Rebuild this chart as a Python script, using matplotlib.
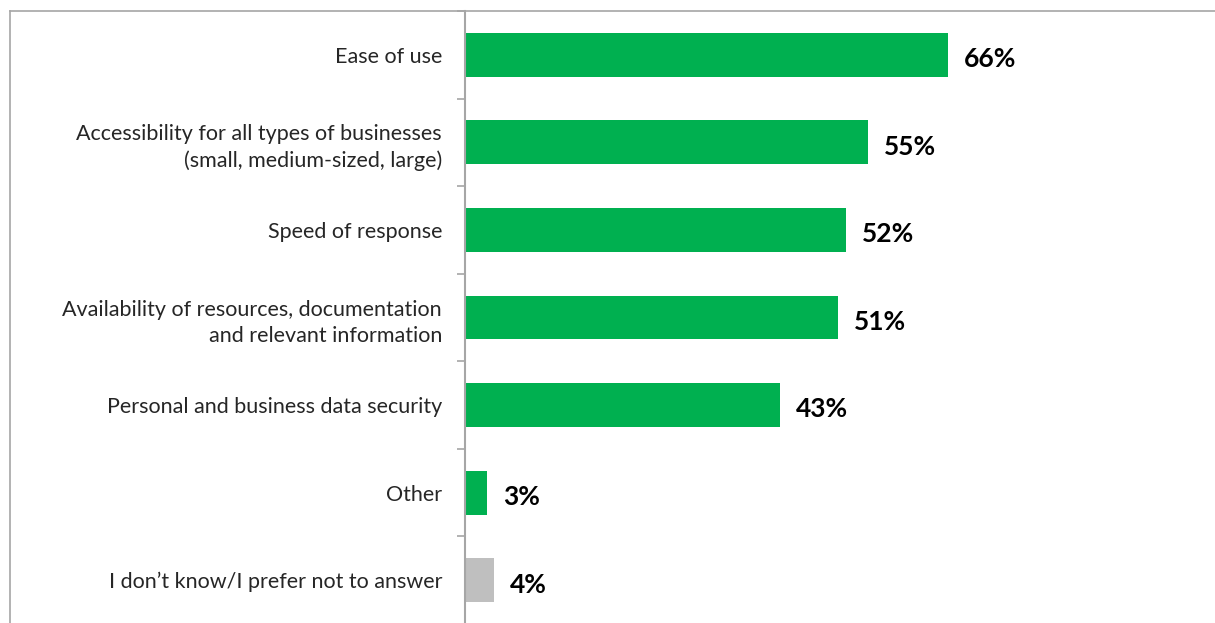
import matplotlib.pyplot as plt
import numpy as np
from matplotlib.lines import Line2D

# survey answers, top to bottom
labels = ["Ease of use",
          "Accessibility for all types of businesses\n(small, medium-sized, large)",
          "Speed of response",
          "Availability of resources, documentation\nand relevant information",
          "Personal and business data security",
          "Other",
          "I don\u2019t know/I prefer not to answer"]
values = [66, 55, 52, 51, 43, 3, 4]
colors = ["#00B050"] * 6 + ["#BFBFBF"]

plt.rcParams['font.family'] = ['Lato', 'DejaVu Sans']

W, H = 1215, 623
fig = plt.figure(figsize=(W / 100, H / 100), dpi=100)
ax = fig.add_axes([465 / W, -1 / H, (1213 - 465) / W, (H - 11 + 1) / H])

y = np.arange(len(values))
ax.barh(y, values, height=0.5, color=colors)
for yi, v in zip(y, values):
    ax.text(v + 2.2, yi + 0.05, "%d%%" % v, va="center", ha="left",
            fontsize=19, fontweight="bold", color="black")

ax.set_xlim(0, 102.2)
ax.set_ylim(len(values) - 0.5, -0.5)
ax.set_yticks(y)
ax.set_yticklabels(labels, fontsize=15.5, linespacing=1.4)
ax.set_yticks(np.arange(-0.5, len(values), 1), minor=True)
ax.tick_params(axis="y", which="major", length=0, pad=16.5, colors="#262626")
ax.tick_params(axis="y", which="minor", length=6, width=1.2, color="#A6A6A6")
ax.set_xticks([])
for s in ["top", "right", "bottom"]:
    ax.spines[s].set_visible(False)
ax.spines["left"].set_color("#A6A6A6")
ax.spines["left"].set_linewidth(1.5)

# outer frame of the figure box (top and left edges only)
fc = "#A6A6A6"
fig.add_artist(Line2D([10 / W, 1], [1 - 11 / H] * 2, color=fc, lw=1.2))
fig.add_artist(Line2D([10 / W] * 2, [0, 1 - 11 / H], color=fc, lw=1.2))

fig.savefig("out.png", dpi=100)
